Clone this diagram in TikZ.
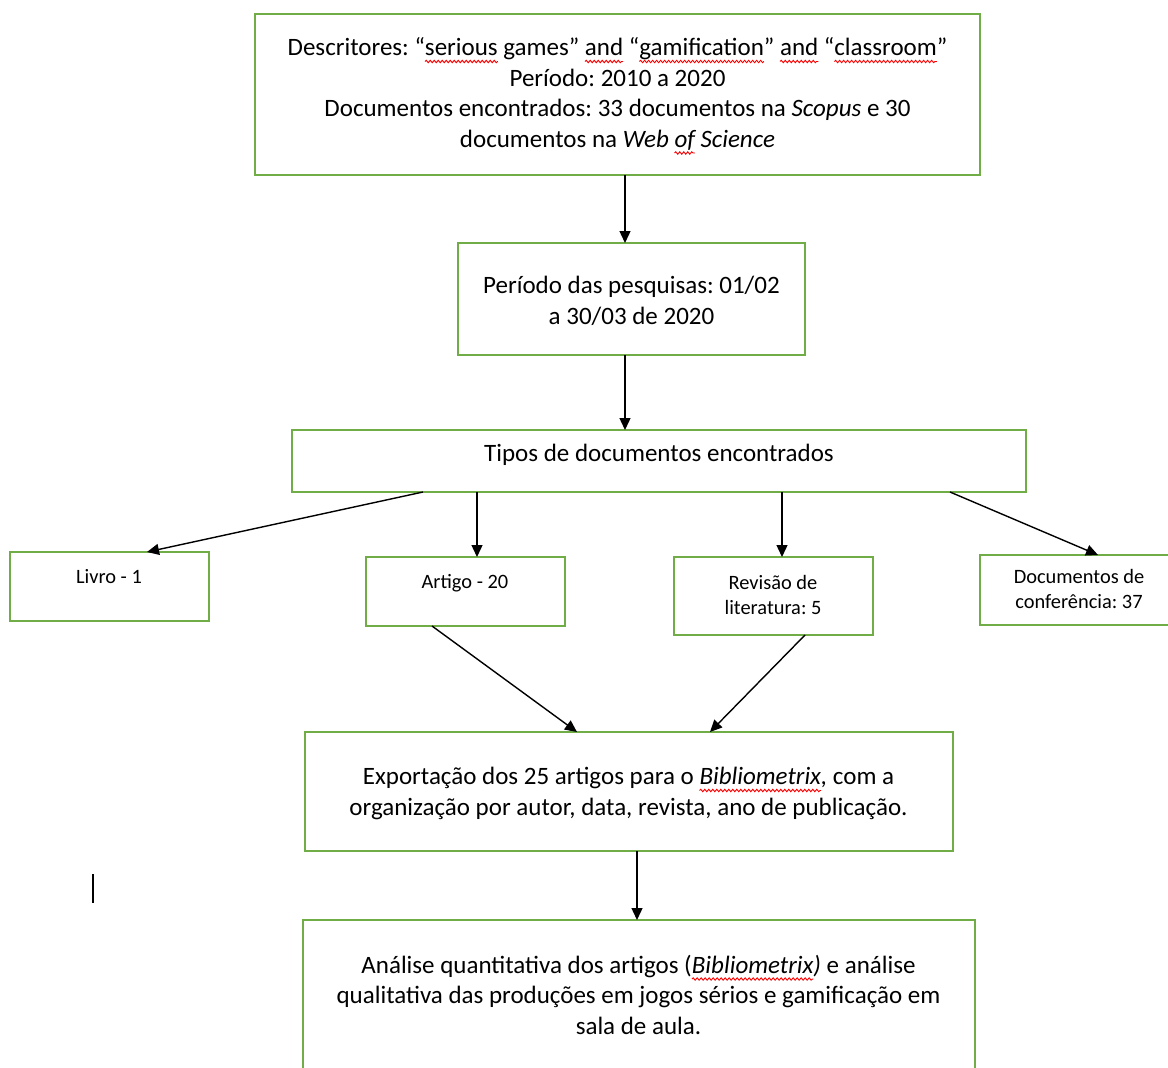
\documentclass[tikz,border=0pt]{standalone}
\usepackage{fontspec}
\setmainfont{Carlito}
\frenchspacing
\usetikzlibrary{arrows.meta,decorations.pathmorphing}
\definecolor{boxgreen}{HTML}{70AD47}
\newsavebox\sqbox
\newcommand\sq[1]{\sbox\sqbox{#1}\rlap{\tikz[baseline=0pt,x=1pt,y=1pt]{\useasboundingbox (0,0); \draw[red, line width=0.9pt, decorate, decoration={snake, amplitude=1.2pt, segment length=4pt}] (0pt,-6pt) -- (\wd\sqbox,-6pt);}}\usebox\sqbox}
\tikzset{
  box/.style={draw=boxgreen, line width=1.5pt, rectangle, inner sep=0pt, outer sep=0pt, anchor=north west},
  arr/.style={draw=black, line width=1.4pt, -{Triangle[length=12pt,width=11pt]}},
  bigtxt/.style={anchor=base, align=center, inner sep=0pt, font=\fontsize{25}{30.5}\selectfont},
  smalltxt/.style={anchor=base, align=center, inner sep=0pt, font=\fontsize{20.4}{25}\selectfont}
}
\begin{document}
\begin{tikzpicture}[x=1pt,y=-1pt]
\path[use as bounding box, clip] (0,0) rectangle (1168,1068);
\fill[white] (0,0) rectangle (1168,1068);
% boxes
\node[box, minimum width=725pt, minimum height=161pt] (top) at (255,14) {};
\node[box, minimum width=347pt, minimum height=112pt] (per) at (458,243) {};
\node[box, minimum width=734pt, minimum height=62pt] (tipos) at (292,430) {};
\node[box, minimum width=199pt, minimum height=69pt] (livro) at (10,552) {};
\node[box, minimum width=199pt, minimum height=69pt] (artigo) at (366,557) {};
\node[box, minimum width=199pt, minimum height=78pt] (revisao) at (674,557) {};
\node[box, minimum width=198pt, minimum height=70pt] (conf) at (980,555) {};
\node[box, minimum width=648pt, minimum height=119pt] (export) at (305,732) {};
\node[box, minimum width=672pt, minimum height=170pt] (analise) at (303,920) {};
% texts (anchor base = baseline of the last line)
\node[bigtxt] (ttop) at (617.5,147) {Descritores: “\sq{serious} games” \sq{and} “\sq{gamification}” \sq{and} “\sq{classroom}”\\Período: 2010 a 2020\\Documentos encontrados: 33 documentos na \textit{Scopus} e 30\\documentos na \textit{Web \sq{of} Science}};
\node[bigtxt] (tper) at (631.5,324) {Período das pesquisas: 01/02\\a 30/03 de 2020};
\node[bigtxt] (ttipos) at (659,461) {Tipos de documentos encontrados};
\node[smalltxt] (tlivro) at (109,583.5) {Livro - 1};
\node[smalltxt] (tartigo) at (465,588.5) {Artigo - 20};
\node[smalltxt] (trevisao) at (773,614.5) {Revisão de\\literatura: 5};
\node[smalltxt] (tconf) at (1079,608.5) {Documentos de\\conferência: 37};
\node[bigtxt] (texport) at (628.5,815) {Exportação dos 25 artigos para o \textit{\sq{Bibliometrix},} com a\\organização por autor, data, revista, ano de publicação.};
\node[bigtxt] (tanalise) at (638.5,1034) {Análise quantitativa dos artigos (\textit{\sq{Bibliometrix})} e análise\\qualitativa das produções em jogos sérios e gamificação em\\sala de aula.};
% connectors
\draw[arr] ([xshift=370pt]top.south west) -- ([xshift=167pt]per.north west);
\draw[arr] ([xshift=167pt]per.south west) -- ([xshift=333pt]tipos.north west);
\draw[arr] ([xshift=131pt]tipos.south west) -- ([xshift=137pt]livro.north west);
\draw[arr] ([xshift=185pt]tipos.south west) -- ([xshift=111pt]artigo.north west);
\draw[arr] ([xshift=490pt]tipos.south west) -- ([xshift=108pt]revisao.north west);
\draw[arr] ([xshift=658pt]tipos.south west) -- ([xshift=118pt]conf.north west);
\draw[arr] ([xshift=66pt]artigo.south west) -- ([xshift=272pt]export.north west);
\draw[arr] ([xshift=131pt]revisao.south west) -- ([xshift=405pt]export.north west);
\draw[arr] ([xshift=332pt]export.south west) -- ([xshift=334pt]analise.north west);
% text cursor
\draw[black, line width=2pt] (93,874) -- (93,903);
\end{tikzpicture}
\end{document}
